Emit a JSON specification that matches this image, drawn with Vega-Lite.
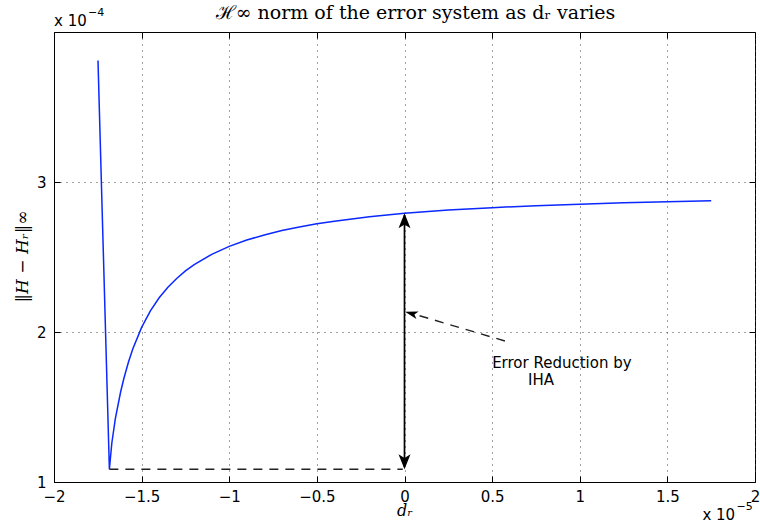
{
  "$schema": "https://vega.github.io/schema/vega-lite/v6.json",
  "width": 701,
  "height": 450,
  "autosize": {"type": "none"},
  "padding": {"left": 54, "top": 32, "right": 5, "bottom": 43},
  "background": "white",
  "title": {
    "text": "ℋ∞  norm of the error system as dᵣ varies",
    "font": "DejaVu Serif",
    "fontSize": 19,
    "fontWeight": "normal",
    "color": "black",
    "anchor": "middle",
    "offset": -16,
    "dx": 11
  },
  "config": {"view": {"stroke": "black", "strokeWidth": 1}},
  "datasets": {
    "curve": [
      {"x": -1.749, "y": 3.81},
      {"x": -1.684, "y": 1.085},
      {"x": -1.67, "y": 1.26},
      {"x": -1.65, "y": 1.423},
      {"x": -1.62, "y": 1.6},
      {"x": -1.6, "y": 1.697},
      {"x": -1.575, "y": 1.8},
      {"x": -1.55, "y": 1.889},
      {"x": -1.5, "y": 2.031},
      {"x": -1.45, "y": 2.141},
      {"x": -1.4, "y": 2.228},
      {"x": -1.35, "y": 2.299},
      {"x": -1.3, "y": 2.357},
      {"x": -1.25, "y": 2.407},
      {"x": -1.2, "y": 2.449},
      {"x": -1.1, "y": 2.518},
      {"x": -1.0, "y": 2.571},
      {"x": -0.9, "y": 2.613},
      {"x": -0.8, "y": 2.647},
      {"x": -0.7, "y": 2.676},
      {"x": -0.6, "y": 2.7},
      {"x": -0.5, "y": 2.721},
      {"x": -0.4, "y": 2.739},
      {"x": -0.3, "y": 2.754},
      {"x": -0.2, "y": 2.768},
      {"x": -0.1, "y": 2.78},
      {"x": 0.0, "y": 2.791},
      {"x": 0.25, "y": 2.813},
      {"x": 0.5, "y": 2.829},
      {"x": 0.75, "y": 2.842},
      {"x": 1.0, "y": 2.852},
      {"x": 1.25, "y": 2.861},
      {"x": 1.5, "y": 2.868},
      {"x": 1.75, "y": 2.875}
    ],
    "dashed": [
      {"x": -1.684, "y": 1.085, "x2": -0.01, "y2": 1.085},
      {"x": 0.573, "y": 1.94, "x2": 0.03, "y2": 2.128}
    ],
    "solid": [
      {"x": 0, "y": 1.1, "x2": 0, "y2": 2.78}
    ],
    "upHead": [{"x": 0, "y": 2.791}],
    "downHead": [{"x": 0, "y": 1.085}],
    "sideHead": [{"x": 0.003, "y": 2.135}],
    "notes": [
      {"x": 0.5, "y": 1.76, "label": "Error Reduction by"},
      {"x": 0.705, "y": 1.645, "label": "IHA"}
    ],
    "scaleNotes": [
      {"x": -2, "y": 4.04, "label": "x 10", "exp": "−4"},
      {"x": 1.70, "y": 0.745, "label": "x 10", "exp": "−5"}
    ]
  },
  "layer": [
    {
      "encoding": {
        "x": {
          "field": "x",
          "type": "quantitative",
          "scale": {"domain": [-2, 2], "nice": false, "zero": false},
          "axis": {
            "title": "dᵣ",
            "titleFont": "DejaVu Serif",
            "titleFontStyle": "italic",
            "titleFontWeight": "normal",
            "titleFontSize": 16,
            "titleColor": "black",
            "titleY": 33,
            "titleBaseline": "alphabetic",
            "values": [-2, -1.5, -1, -0.5, 0, 0.5, 1, 1.5, 2],
            "format": "~g",
            "labelFont": "DejaVu Sans",
            "labelFontSize": 15,
            "labelColor": "black",
            "labelBaseline": "alphabetic",
            "labelPadding": 25,
            "labelFlush": false,
            "labelOverlap": false,
            "tickSize": -6,
            "tickColor": "black",
            "tickWidth": 1,
            "domainColor": "black",
            "domainWidth": 1,
            "grid": true,
            "gridDash": [1, 5],
            "gridColor": "#444444",
            "gridWidth": 1,
            "gridOpacity": 1
          }
        },
        "y": {
          "field": "y",
          "type": "quantitative",
          "scale": {"domain": [1, 4], "nice": false, "zero": false},
          "axis": {
            "title": "‖H − Hᵣ‖∞",
            "titleFont": "DejaVu Serif",
            "titleFontStyle": "italic",
            "titleFontWeight": "normal",
            "titleFontSize": 17,
            "titleColor": "black",
            "titleX": -32,
            "titleY": 224,
            "titleAngle": -90,
            "titleAlign": "center",
            "titleBaseline": "middle",
            "values": [1, 2, 3],
            "format": "~g",
            "labelFont": "DejaVu Sans",
            "labelFontSize": 15,
            "labelColor": "black",
            "labelPadding": 14,
            "labelFlush": false,
            "labelOverlap": false,
            "tickSize": -6,
            "tickColor": "black",
            "tickWidth": 1,
            "domainColor": "black",
            "domainWidth": 1,
            "grid": true,
            "gridDash": [1, 5],
            "gridColor": "#444444",
            "gridWidth": 1,
            "gridOpacity": 1
          }
        }
      },
      "layer": [
        {
          "data": {"name": "curve"},
          "mark": {"type": "line", "color": "#0a28ff", "strokeWidth": 1.5}
        },
        {
          "data": {"name": "dashed"},
          "mark": {"type": "rule", "color": "#222222", "strokeWidth": 1.4, "strokeDash": [9, 7]},
          "encoding": {
            "x2": {"field": "x2"},
            "y2": {"field": "y2"}
          }
        },
        {
          "data": {"name": "solid"},
          "mark": {"type": "rule", "color": "black", "strokeWidth": 1.7},
          "encoding": {
            "x2": {"field": "x2"},
            "y2": {"field": "y2"}
          }
        },
        {
          "data": {"name": "upHead"},
          "mark": {"type": "point", "shape": "M0,0L0.8,2L0,1.5L-0.8,2Z", "size": 225, "filled": true, "color": "black", "opacity": 1, "strokeWidth": 0}
        },
        {
          "data": {"name": "downHead"},
          "mark": {"type": "point", "shape": "M0,0L0.8,-2L0,-1.5L-0.8,-2Z", "size": 225, "filled": true, "color": "black", "opacity": 1, "strokeWidth": 0}
        },
        {
          "data": {"name": "sideHead"},
          "mark": {"type": "point", "shape": "M0,0L0.6,2L0,1.5L-0.6,2Z", "size": 169, "angle": 286, "filled": true, "color": "black", "opacity": 1, "strokeWidth": 0}
        },
        {
          "data": {"name": "notes"},
          "mark": {"type": "text", "align": "left", "baseline": "alphabetic", "font": "DejaVu Sans", "fontSize": 15, "color": "black"},
          "encoding": {"text": {"field": "label"}}
        },
        {
          "data": {"name": "scaleNotes"},
          "mark": {"type": "text", "align": "left", "baseline": "alphabetic", "font": "DejaVu Sans", "fontSize": 15, "color": "black", "clip": false},
          "encoding": {"text": {"field": "label"}}
        },
        {
          "data": {"name": "scaleNotes"},
          "mark": {"type": "text", "align": "left", "baseline": "alphabetic", "font": "DejaVu Sans", "fontSize": 11, "color": "black", "dx": 34, "dy": -10, "clip": false},
          "encoding": {"text": {"field": "exp"}}
        }
      ]
    },
    {
      "data": {"name": "curve"},
      "mark": {"type": "point", "opacity": 0},
      "encoding": {
        "x": {
          "field": "x",
          "type": "quantitative",
          "scale": {"domain": [-2, 2], "nice": false, "zero": false},
          "axis": {
            "orient": "top",
            "title": null,
            "values": [-2, -1.5, -1, -0.5, 0, 0.5, 1, 1.5, 2],
            "labels": false,
            "domain": false,
            "grid": false,
            "tickSize": -6,
            "tickColor": "black",
            "tickWidth": 1
          }
        },
        "y": {
          "field": "y",
          "type": "quantitative",
          "scale": {"domain": [1, 4], "nice": false, "zero": false},
          "axis": {
            "orient": "right",
            "title": null,
            "values": [1, 2, 3],
            "labels": false,
            "domain": false,
            "grid": false,
            "tickSize": -6,
            "tickColor": "black",
            "tickWidth": 1
          }
        }
      }
    }
  ],
  "resolve": {"axis": {"x": "independent", "y": "independent"}}
}
